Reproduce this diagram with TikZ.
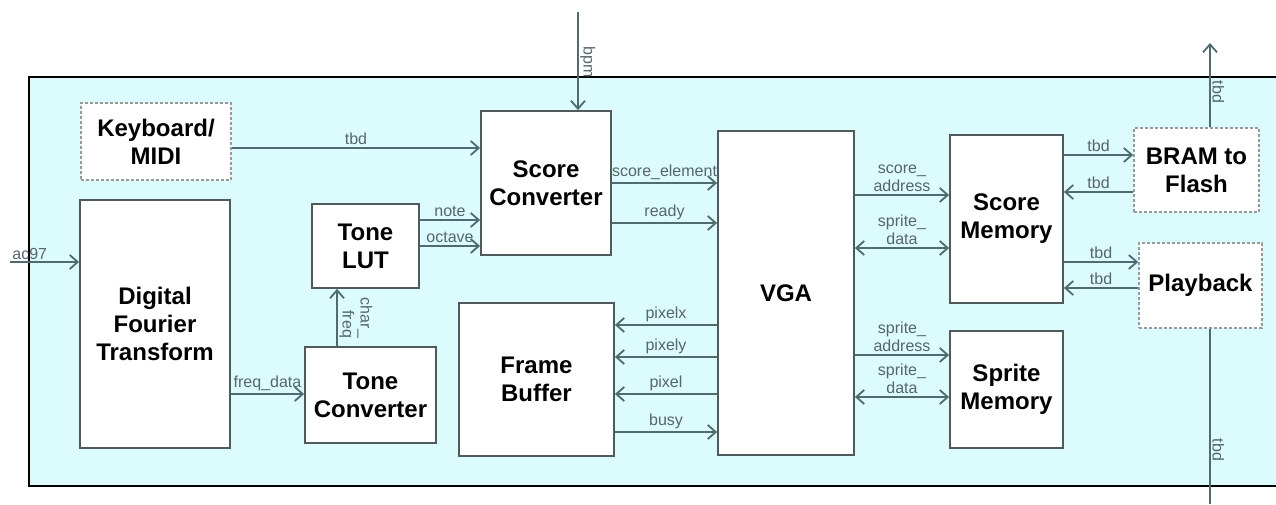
\documentclass[tikz,border=0pt]{standalone}
\usepackage{fontspec}
\setmainfont{Liberation Sans}
\usetikzlibrary{arrows.meta}
\definecolor{wire}{HTML}{4F6B70}
\definecolor{wiretext}{HTML}{56666A}
\definecolor{chipbg}{HTML}{DCFBFC}
\definecolor{blockline}{HTML}{505A5C}
\tikzset{
  flow/.style={-{Straight Barb[length=4pt,width=7pt]},line width=0.9pt,wire},
  bus/.style={{Straight Barb[length=4pt,width=7pt]}-{Straight Barb[length=4pt,width=7pt]},line width=0.9pt,wire},
  block/.style={draw=blockline,line width=0.9pt,fill=white,align=center,
    font=\bfseries\fontsize{12}{14}\selectfont,inner sep=2pt},
  extblock/.style={block,draw=black!40,dash pattern=on 1.5pt off 1pt,line width=0.8pt},
  sig/.style={font=\fontsize{8}{9}\selectfont,text=wiretext,align=center,inner sep=1pt}
}

\begin{document}
\begin{tikzpicture}[x=0.5pt,y=-0.5pt]
\clip (0,0) rectangle (1276,504);
\draw[fill=chipbg,line width=1.2pt] (29,77) rectangle (1290,486);
% blocks
\node[extblock,minimum width=75pt,minimum height=38.5pt] (kbd) at (156,141.5) {Keyboard/\\MIDI};
\node[block,minimum width=75pt,minimum height=124pt] (dft) at (155,324) {Digital\\Fourier\\Transform};
\node[block,minimum width=53.5pt,minimum height=42pt] (lut) at (365.5,246) {Tone\\LUT};
\node[block,minimum width=65.5pt,minimum height=48pt] (tconv) at (370.5,395) {Tone\\Converter};
\node[block,minimum width=65pt,minimum height=72pt] (sconv) at (546,183) {Score\\Converter};
\node[block,minimum width=77.5pt,minimum height=76.5pt] (fbuf) at (536.5,379.5) {Frame\\Buffer};
\node[block,minimum width=68pt,minimum height=162pt] (vga) at (786,293) {VGA};
\node[block,minimum width=56.5pt,minimum height=84pt] (smem) at (1006.5,219) {Score\\Memory};
\node[block,minimum width=56.5pt,minimum height=58.5pt] (spmem) at (1006.5,389.5) {Sprite\\Memory};
\node[extblock,minimum width=62.5pt,minimum height=42pt] (bram) at (1196.5,170) {BRAM to\\Flash};
\node[extblock,minimum width=61.5pt,minimum height=42.5pt] (play) at (1200.5,285.5) {Playback};
% outside signals
\coordinate (acin) at (10,262);
\coordinate (bpmin) at (578,12);
\coordinate (flashout) at (1210,43);
\coordinate (playout) at (1210,504);
\draw[flow] (acin) -- (acin -| dft.west);
\node[sig,anchor=south west] at (acin) {ac97};
\draw[flow] (bpmin) -- (bpmin |- sconv.north);
\node[sig,rotate=-90,anchor=south] at (578,62) {bpm};
\draw[flow] (bram.north -| flashout) -- (flashout);
\node[sig,rotate=-90,anchor=south] at (1210,92) {tbd};
\draw[wire,line width=0.6pt] (play.south -| playout) -- (playout);
\node[sig,rotate=-90,anchor=south] at (1210,450) {tbd};
% left side
\draw[flow] (kbd.east |- 0,148) -- (sconv.west |- 0,148) node[sig,midway,above] {tbd};
\draw[flow] (dft.east |- 0,394) -- (tconv.west |- 0,394) node[sig,midway,above] {freq\_data};
\draw[flow] (tconv.north -| 337,0) -- (lut.south -| 337,0);
\node[sig,rotate=-90,anchor=south,align=right] at (337,318) {char\_\\freq};
\draw[flow] (lut.east |- 0,220) -- (sconv.west |- 0,220) node[sig,midway,above] {note};
\draw[flow] (lut.east |- 0,246) -- (sconv.west |- 0,246) node[sig,midway,above] {octave};
% score converter and frame buffer to vga
\draw[flow] (sconv.east |- 0,183) -- (vga.west |- 0,183) node[sig,midway,above] {score\_element};
\draw[flow] (sconv.east |- 0,223) -- (vga.west |- 0,223) node[sig,midway,above] {ready};
\draw[flow] (vga.west |- 0,325) -- (fbuf.east |- 0,325) node[sig,midway,above] {pixelx};
\draw[flow] (vga.west |- 0,357) -- (fbuf.east |- 0,357) node[sig,midway,above] {pixely};
\draw[flow] (vga.west |- 0,394) -- (fbuf.east |- 0,394) node[sig,midway,above] {pixel};
\draw[flow] (fbuf.east |- 0,432) -- (vga.west |- 0,432) node[sig,midway,above] {busy};
% vga to memories
\draw[flow] (vga.east |- 0,195) -- (smem.west |- 0,195) node[sig,midway,above] {score\_\\address};
\draw[bus] (vga.east |- 0,248) -- (smem.west |- 0,248) node[sig,midway,above] {sprite\_\\data};
\draw[flow] (vga.east |- 0,355) -- (spmem.west |- 0,355) node[sig,midway,above] {sprite\_\\address};
\draw[bus] (vga.east |- 0,397) -- (spmem.west |- 0,397) node[sig,midway,above] {sprite\_\\data};
% score memory links
\draw[flow] (smem.east |- 0,155) -- (bram.west |- 0,155) node[sig,midway,above] {tbd};
\draw[flow] (bram.west |- 0,192) -- (smem.east |- 0,192) node[sig,midway,above] {tbd};
\draw[flow] (smem.east |- 0,262) -- (play.west |- 0,262) node[sig,midway,above] {tbd};
\draw[flow] (play.west |- 0,288) -- (smem.east |- 0,288) node[sig,midway,above] {tbd};
\end{tikzpicture}
\end{document}
